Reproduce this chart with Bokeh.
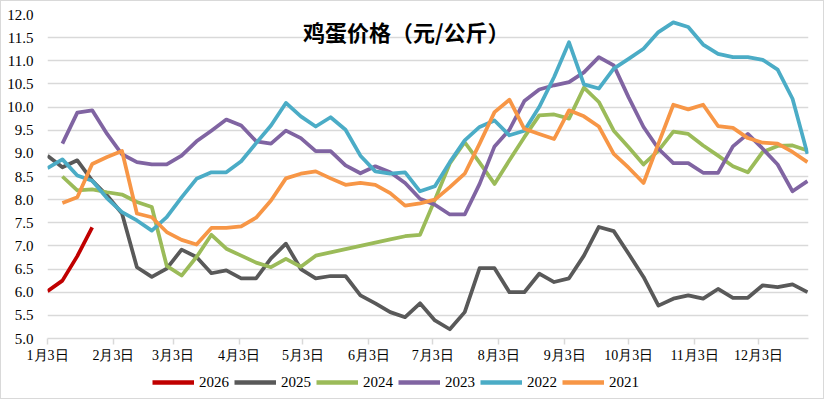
from bokeh.plotting import figure
from bokeh.layouts import column
from bokeh.models import Range1d, FixedTicker, Legend, LegendItem, Label, NumeralTickFormatter
from bokeh.embed import file_html
from bokeh.resources import INLINE

# weekly observations; x = days after Jan 3
weeks = list(range(52))
tick_days = [0, 31, 59, 90, 120, 151, 181, 212, 243, 273, 304, 334]
tick_labels = ["1月3日", "2月3日", "3月3日", "4月3日", "5月3日", "6月3日",
               "7月3日", "8月3日", "9月3日", "10月3日", "11月3日", "12月3日"]
y_ticks = [5.0, 5.5, 6.0, 6.5, 7.0, 7.5, 8.0, 8.5, 9.0, 9.5, 10.0, 10.5, 11.0, 11.5, 12.0]

y2026 = [6.02, 6.25, 6.78, 7.40]
y2025 = [8.95, 8.70, 8.85, 8.41, 8.09, 7.70, 6.54, 6.33, 6.51, 6.92, 6.76, 6.41, 6.47, 6.30,
         6.30, 6.73, 7.05, 6.50, 6.30, 6.35, 6.35, 5.93, 5.76, 5.57, 5.46, 5.76, 5.39, 5.20,
         5.57, 6.52, 6.52, 6.00, 6.00, 6.40, 6.22, 6.30, 6.79, 7.41, 7.32, 6.83, 6.33, 5.71,
         5.86, 5.93, 5.86, 6.07, 5.88, 5.88, 6.15, 6.11, 6.17, 6.00]
y2024 = [None, 8.50, 8.20, 8.22, 8.16, 8.11, 7.95, 7.84, 6.57, 6.36, 6.76, 7.24, 6.94, 6.79,
         6.64, 6.54, 6.72, 6.55, 6.79, 6.86, 6.93, 7.00, 7.07, 7.14, 7.21, 7.24, 8.00, 8.78,
         9.24, 8.80, 8.34, 8.85, 9.35, 9.82, 9.84, 9.75, 10.42, 10.11, 9.49, 9.13, 8.76, 9.06,
         9.47, 9.42, 9.17, 8.95, 8.72, 8.59, 9.03, 9.16, 9.17, 9.06]
y2023 = [None, 9.21, 9.88, 9.93, 9.42, 8.98, 8.81, 8.76, 8.76, 8.95, 9.26, 9.49, 9.73, 9.60,
         9.26, 9.21, 9.49, 9.33, 9.05, 9.05, 8.74, 8.57, 8.72, 8.59, 8.36, 8.02, 7.89, 7.68,
         7.68, 8.34, 9.15, 9.51, 10.13, 10.38, 10.47, 10.54, 10.75, 11.08, 10.90, 10.21, 9.57,
         9.10, 8.79, 8.79, 8.58, 8.58, 9.15, 9.42, 9.10, 8.76, 8.18, 8.40]
y2022 = [8.68, 8.87, 8.52, 8.41, 8.03, 7.73, 7.55, 7.33, 7.62, 8.05, 8.45, 8.59, 8.59, 8.83,
         9.22, 9.60, 10.09, 9.80, 9.58, 9.78, 9.51, 8.95, 8.61, 8.56, 8.59, 8.18, 8.29, 8.81,
         9.28, 9.57, 9.71, 9.39, 9.49, 10.00, 10.65, 11.40, 10.49, 10.40, 10.83, 11.04, 11.26,
         11.62, 11.83, 11.73, 11.35, 11.15, 11.08, 11.08, 11.02, 10.81, 10.18, 8.99]
y2021 = [None, 7.93, 8.05, 8.77, 8.92, 9.05, 7.70, 7.62, 7.30, 7.13, 7.03, 7.39, 7.39, 7.42,
         7.61, 7.98, 8.46, 8.56, 8.61, 8.46, 8.32, 8.36, 8.32, 8.14, 7.87, 7.92, 8.00, 8.27,
         8.56, 9.21, 9.89, 10.16, 9.53, 9.42, 9.31, 9.93, 9.80, 9.58, 8.99, 8.69, 8.36, 9.21,
         10.05, 9.95, 10.05, 9.59, 9.55, 9.33, 9.23, 9.21, 9.03, 8.81]

series = [("2026", y2026, "#C00000"), ("2025", y2025, "#595959"), ("2024", y2024, "#9BBB59"),
          ("2023", y2023, "#8064A2"), ("2022", y2022, "#4BACC6"), ("2021", y2021, "#F79646")]

p = figure(width=822, height=364, output_backend="svg", toolbar_location=None,
           x_range=Range1d(0, 357.5), y_range=Range1d(5, 12),
           min_border_left=46, min_border_right=15, min_border_top=13, min_border_bottom=27)
p.outline_line_color = None
p.background_fill_color = "white"
p.border_fill_color = "white"
p.xgrid.visible = False
p.ygrid.grid_line_color = "#D9D9D9"
p.ygrid.grid_line_width = 1.5

p.yaxis.ticker = FixedTicker(ticks=y_ticks)
p.yaxis.formatter = NumeralTickFormatter(format="0.0")
p.yaxis.axis_line_color = None
p.yaxis.major_tick_line_color = None
p.yaxis.minor_tick_line_color = None
p.yaxis.major_label_standoff = 8
p.yaxis.major_label_text_font = "Liberation Serif"
p.yaxis.major_label_text_font_size = "15px"
p.yaxis.major_label_text_color = "black"

p.xaxis.ticker = FixedTicker(ticks=tick_days)
p.xaxis.major_label_overrides = {d: l for d, l in zip(tick_days, tick_labels)}
p.xaxis.axis_line_color = "#D9D9D9"
p.xaxis.axis_line_width = 1.5
p.xaxis.major_tick_line_color = "#D9D9D9"
p.xaxis.major_tick_line_width = 1.5
p.xaxis.major_tick_in = 0
p.xaxis.major_tick_out = 6
p.xaxis.minor_tick_line_color = None
p.xaxis.major_label_standoff = 3
p.xaxis.major_label_text_font = "Liberation Serif"
p.xaxis.major_label_text_font_size = "14px"
p.xaxis.major_label_text_color = "black"

# legend strip below the chart: same series drawn, but its ranges keep them out of view
lf = figure(width=822, height=33, output_backend="svg", toolbar_location=None,
            x_range=Range1d(1000, 1822), y_range=Range1d(100, 133),
            x_axis_type=None, y_axis_type=None,
            min_border_left=0, min_border_right=0, min_border_top=0, min_border_bottom=0)
lf.outline_line_color = None
lf.xgrid.visible = False
lf.ygrid.visible = False

items = []
for name, ys, color in series:
    xs = [7 * w for w, v in zip(weeks, ys) if v is not None]
    vs = [v for v in ys if v is not None]
    p.line(xs, vs, line_color=color, line_width=3.75, line_join="round")
    r = lf.line(xs, vs, line_color=color, line_width=4.5)
    items.append(LegendItem(label=name, renderers=[r]))

title = Label(x=168.5, y=11.64, text="鸡蛋价格（元/公斤）", text_align="center",
              text_baseline="middle", text_font="Noto Sans CJK SC", text_font_style="bold",
              text_font_size="22px", text_color="black")
p.add_layout(title)

legend = Legend(items=items, orientation="horizontal", location=(105, 6),
                glyph_width=42, glyph_height=20, label_height=20, label_standoff=5, spacing=5,
                padding=0, margin=0, border_line_color=None, background_fill_alpha=0,
                label_text_font="Liberation Serif", label_text_font_size="15px",
                label_text_font_style="normal", label_text_color="black")
lf.add_layout(legend)

layout = column(p, lf, spacing=0, styles={"border": "1px solid #D9D9D9"})

open("out.html", "w").write(file_html(layout, INLINE))
